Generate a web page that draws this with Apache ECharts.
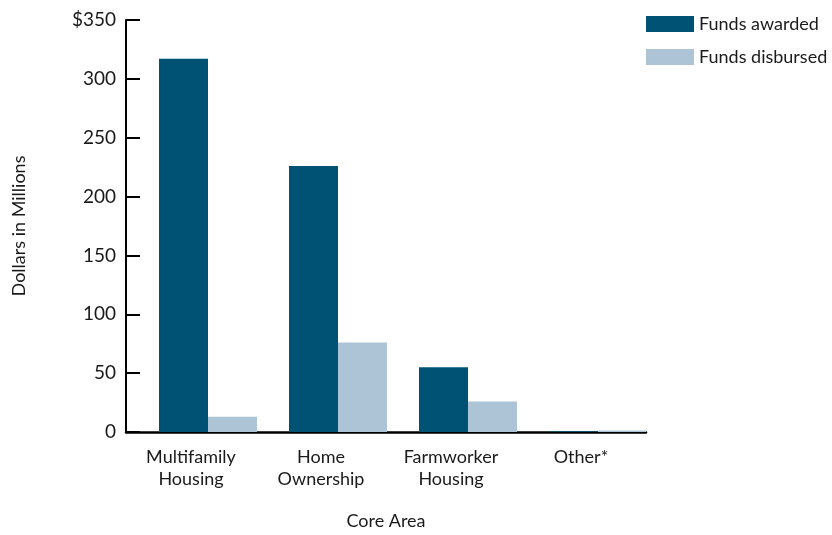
<!DOCTYPE html>
<html><head><meta charset="utf-8">
<script src="https://cdn.jsdelivr.net/npm/echarts@6/dist/echarts.min.js"></script>
<style>html,body{margin:0;padding:0;background:#fff}#c{width:832px;height:535px}</style>
</head><body><div id="c"></div>
<script>
var categories = ['Multifamily\nHousing', 'Home\nOwnership', 'Farmworker\nHousing', 'Other*'];
var fundsAwarded = [317, 226, 55, 0.6];
var fundsDisbursed = [13, 76, 26, 1.2];
var yTicks = [0, 50, 100, 150, 200, 250, 300, 350];
var font = 'Lato';
var chart = echarts.init(document.getElementById('c'));
chart.setOption({
  animation: false,
  textStyle: {fontFamily: font},
  legend: {
    data: ['Funds awarded', 'Funds disbursed'],
    orient: 'vertical', left: 641, top: 10,
    itemWidth: 48, itemHeight: 16, itemGap: 15,
    textStyle: {fontSize: 18, color: '#1a1a1a', fontFamily: font},
    icon: 'rect'
  },
  grid: {left: 126, right: 186, top: 20, bottom: 95, containLabel: false},
  xAxis: {
    type: 'category', data: categories,
    name: 'Core Area', nameLocation: 'middle', nameGap: 80,
    nameTextStyle: {fontSize: 18, color: '#1a1a1a'},
    axisLine: {lineStyle: {color: '#000', width: 2.5}},
    axisTick: {show: false},
    axisLabel: {fontSize: 18, color: '#1a1a1a', margin: 14, lineHeight: 22}
  },
  yAxis: {
    type: 'value', min: 0, max: 350, interval: 50,
    name: 'Dollars in Millions', nameLocation: 'middle', nameGap: 98,
    nameTextStyle: {fontSize: 18, color: '#1a1a1a'},
    axisLine: {show: true, lineStyle: {color: '#000', width: 2}},
    axisTick: {show: true, inside: true, length: 14, lineStyle: {color: '#000', width: 2}},
    splitLine: {show: false},
    axisLabel: {fontSize: 19, color: '#1a1a1a', margin: 10,
      formatter: function(v){ return v === yTicks[yTicks.length-1] ? '$' + v : String(v); }}
  },
  series: [
    {name: '', type: 'bar', data: categories.map(function(){return null;}), barWidth: 34, silent: true, itemStyle: {color: 'rgba(0,0,0,0)'}},
    {name: 'Funds awarded', type: 'bar', data: fundsAwarded, barWidth: 49, itemStyle: {color: '#005274'}},
    {name: 'Funds disbursed', type: 'bar', data: fundsDisbursed, barWidth: 49, barGap: 0, itemStyle: {color: '#adc4d7'}}
  ]
});
</script></body></html>
